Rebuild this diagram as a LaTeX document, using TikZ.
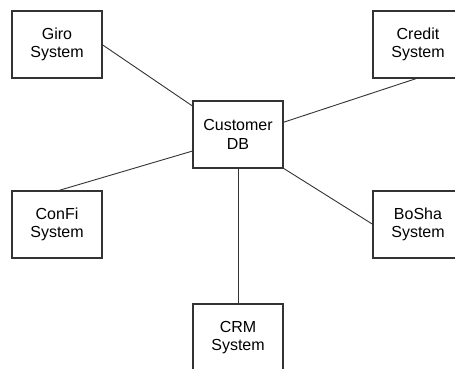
\documentclass[tikz,border=0pt]{standalone}
\usepackage{fontspec}
\setmainfont{Liberation Sans}
\usetikzlibrary{positioning}

\begin{document}
\begin{tikzpicture}[auto,node distance=23pt,font=\fontsize{16}{18.5}\selectfont]

	\tikzstyle{sys}=[draw=black!80,line width=1.1pt,fill=white,align=center,minimum width=90pt,minimum height=67pt,inner sep=0pt,outer sep=0pt]
	\tikzstyle{link}=[draw=black!80,line width=0.9pt]

	\useasboundingbox[fill=white] (0,0) rectangle (455pt,-369pt);

	\node[sys] (db) at (238pt,-134.5pt) {Customer\\DB};
	\node[sys,above left=23pt and 91pt of db] (giro) {Giro\\System};
	\node[sys,above right=23pt and 90pt of db] (credit) {Credit\\System};
	\node[sys,below left=23pt and 91pt of db] (confi) {ConFi\\System};
	\node[sys,below right=23pt and 90pt of db] (bosha) {BoSha\\System};
	\node[sys,below=136pt of db] (crm) {CRM\\System};

	\draw[link] (giro.east) -- (db.148);
	\draw[link] (credit.south) -- (db.15);
	\draw[link] (confi.north) -- (db.200);
	\draw[link] (db.south east) -- (bosha.west);
	\draw[link] (db.south) -- (crm.north);
\end{tikzpicture}
\end{document}
